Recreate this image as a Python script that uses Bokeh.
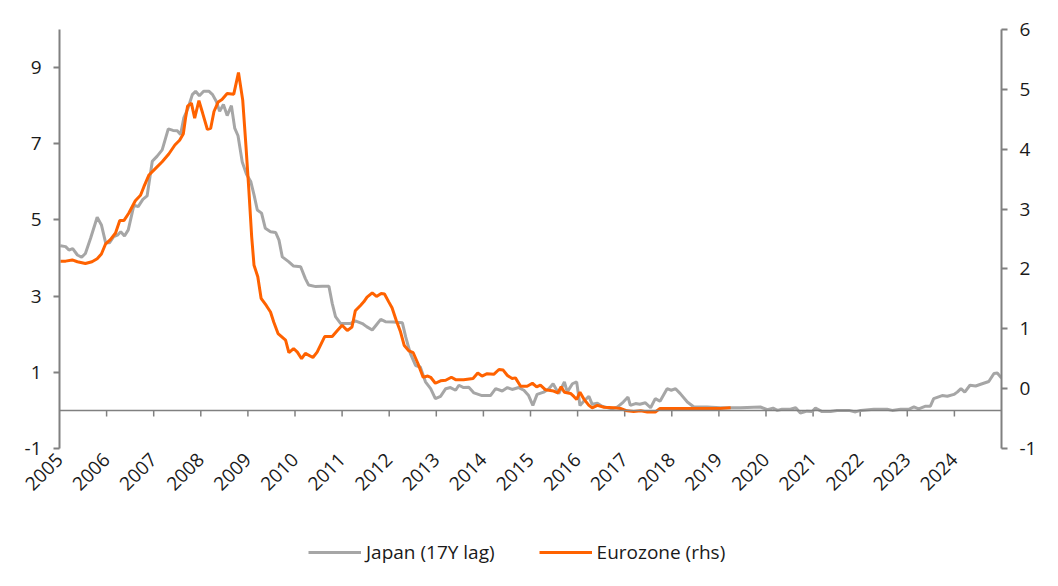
from bokeh.plotting import figure
from bokeh.layouts import column
from bokeh.models import (Range1d, LinearAxis, FixedTicker, Span, Legend, LegendItem)
from bokeh.embed import file_html
from bokeh.resources import INLINE
import math

# ---- data ----
japan_dates = [2005.02, 2005.13, 2005.20, 2005.28, 2005.38, 2005.47, 2005.55, 2005.66, 2005.80, 2005.89,
               2005.98, 2006.06, 2006.15, 2006.23, 2006.30, 2006.38, 2006.46, 2006.58, 2006.67, 2006.77,
               2006.86, 2006.97, 2007.07, 2007.18, 2007.31, 2007.41, 2007.50, 2007.57, 2007.64, 2007.73,
               2007.82, 2007.89, 2007.97, 2008.06, 2008.17, 2008.25, 2008.33, 2008.40, 2008.48, 2008.56,
               2008.65, 2008.72, 2008.79, 2008.88, 2008.97, 2009.06, 2009.13, 2009.20, 2009.29, 2009.37,
               2009.48, 2009.59, 2009.66, 2009.73, 2009.87, 2009.97, 2010.12, 2010.22, 2010.29, 2010.44,
               2010.58, 2010.72, 2010.79, 2010.86, 2010.97, 2011.18, 2011.28, 2011.43, 2011.52, 2011.64,
               2011.73, 2011.82, 2011.92, 2012.09, 2012.28, 2012.35, 2012.45, 2012.56, 2012.66, 2012.77,
               2012.88, 2012.98, 2013.09, 2013.20, 2013.30, 2013.41, 2013.48, 2013.58, 2013.69, 2013.80,
               2013.97, 2014.15, 2014.26, 2014.40, 2014.51, 2014.61, 2014.75, 2014.86, 2014.96, 2015.05,
               2015.14, 2015.28, 2015.39, 2015.48, 2015.60, 2015.72, 2015.78, 2015.89, 2015.98, 2016.05,
               2016.13, 2016.24, 2016.31, 2016.42, 2016.52, 2016.73, 2016.85, 2016.97, 2017.07, 2017.12,
               2017.23, 2017.32, 2017.44, 2017.55, 2017.65, 2017.75, 2017.90, 2017.99, 2018.08, 2018.18,
               2018.33, 2018.47, 2018.75, 2019.03, 2019.46, 2019.88, 2020.03, 2020.15, 2020.24, 2020.34,
               2020.52, 2020.63, 2020.73, 2020.87, 2020.98, 2021.05, 2021.19, 2021.37, 2021.51, 2021.76,
               2021.90, 2022.01, 2022.29, 2022.57, 2022.68, 2022.86, 2023.03, 2023.14, 2023.24, 2023.39,
               2023.49, 2023.56, 2023.74, 2023.85, 2023.99, 2024.06, 2024.14, 2024.22, 2024.33, 2024.45,
               2024.59, 2024.73, 2024.84, 2024.91, 2025.00]
japan_values = [4.32, 4.30, 4.21, 4.25, 4.08, 4.02, 4.12, 4.52, 5.07, 4.87,
                4.40, 4.40, 4.56, 4.60, 4.69, 4.58, 4.74, 5.39, 5.35, 5.54,
                5.63, 6.54, 6.67, 6.84, 7.39, 7.35, 7.34, 7.24, 7.68, 7.94,
                8.29, 8.38, 8.26, 8.38, 8.38, 8.29, 8.11, 7.85, 8.03, 7.74,
                8.00, 7.41, 7.21, 6.52, 6.20, 6.01, 5.66, 5.26, 5.18, 4.78,
                4.69, 4.67, 4.47, 4.03, 3.90, 3.79, 3.77, 3.46, 3.29, 3.25,
                3.26, 3.26, 2.81, 2.46, 2.28, 2.28, 2.35, 2.28, 2.20, 2.11,
                2.25, 2.39, 2.33, 2.32, 2.30, 1.93, 1.49, 1.18, 1.14, 0.75,
                0.57, 0.31, 0.37, 0.57, 0.60, 0.53, 0.66, 0.60, 0.61, 0.46,
                0.39, 0.39, 0.57, 0.51, 0.60, 0.55, 0.60, 0.53, 0.39, 0.13,
                0.42, 0.48, 0.57, 0.70, 0.44, 0.75, 0.48, 0.70, 0.75, 0.13,
                0.24, 0.37, 0.16, 0.19, 0.11, 0.04, 0.09, 0.22, 0.35, 0.13,
                0.18, 0.16, 0.20, 0.07, 0.31, 0.24, 0.57, 0.53, 0.57, 0.44,
                0.22, 0.09, 0.09, 0.07, 0.07, 0.09, 0.02, 0.06, 0.00, 0.03,
                0.03, 0.07, -0.07, -0.02, -0.03, 0.06, -0.03, -0.03, 0.00, 0.00,
                -0.04, 0.00, 0.03, 0.03, 0.00, 0.03, 0.03, 0.09, 0.04, 0.11,
                0.11, 0.31, 0.39, 0.37, 0.42, 0.48, 0.57, 0.48, 0.66, 0.64,
                0.70, 0.76, 0.97, 0.98, 0.85]

euro_dates = [2005.02, 2005.13, 2005.27, 2005.38, 2005.55, 2005.69, 2005.80, 2005.89, 2005.98, 2006.08,
              2006.19, 2006.28, 2006.37, 2006.47, 2006.61, 2006.72, 2006.79, 2006.90, 2007.04, 2007.18,
              2007.32, 2007.45, 2007.55, 2007.63, 2007.68, 2007.72, 2007.80, 2007.87, 2007.96, 2008.04,
              2008.14, 2008.21, 2008.28, 2008.37, 2008.45, 2008.56, 2008.70, 2008.80, 2008.89, 2008.96,
              2009.02, 2009.08, 2009.13, 2009.21, 2009.28, 2009.39, 2009.48, 2009.55, 2009.64, 2009.80,
              2009.87, 2009.97, 2010.05, 2010.14, 2010.22, 2010.38, 2010.47, 2010.63, 2010.79, 2010.90,
              2011.00, 2011.11, 2011.21, 2011.28, 2011.39, 2011.46, 2011.53, 2011.64, 2011.73, 2011.83,
              2011.90, 2011.99, 2012.06, 2012.15, 2012.24, 2012.32, 2012.42, 2012.51, 2012.61, 2012.72,
              2012.82, 2012.88, 2012.98, 2013.09, 2013.20, 2013.32, 2013.41, 2013.58, 2013.78, 2013.88,
              2013.97, 2014.08, 2014.22, 2014.33, 2014.42, 2014.51, 2014.61, 2014.68, 2014.79, 2014.93,
              2015.04, 2015.13, 2015.21, 2015.32, 2015.49, 2015.58, 2015.65, 2015.72, 2015.85, 2015.92,
              2015.98, 2016.05, 2016.13, 2016.24, 2016.31, 2016.42, 2016.56, 2016.77, 2016.91, 2017.05,
              2017.19, 2017.34, 2017.48, 2017.65, 2017.75, 2018.04, 2018.40, 2018.75, 2019.03, 2019.25]
euro_values = [2.13, 2.13, 2.15, 2.12, 2.09, 2.12, 2.17, 2.25, 2.42, 2.49,
               2.60, 2.81, 2.81, 2.93, 3.14, 3.23, 3.37, 3.57, 3.68, 3.79,
               3.92, 4.07, 4.15, 4.26, 4.54, 4.72, 4.77, 4.52, 4.81, 4.60,
               4.33, 4.35, 4.63, 4.79, 4.83, 4.93, 4.92, 5.28, 4.82, 4.04,
               3.32, 2.54, 2.06, 1.87, 1.51, 1.39, 1.28, 1.11, 0.92, 0.81,
               0.60, 0.67, 0.61, 0.50, 0.59, 0.52, 0.61, 0.87, 0.87, 0.97,
               1.06, 0.97, 1.03, 1.30, 1.39, 1.45, 1.53, 1.60, 1.54, 1.59,
               1.58, 1.45, 1.35, 1.14, 0.95, 0.72, 0.63, 0.60, 0.42, 0.19,
               0.21, 0.19, 0.09, 0.13, 0.14, 0.19, 0.15, 0.15, 0.17, 0.26,
               0.21, 0.25, 0.24, 0.32, 0.31, 0.22, 0.17, 0.18, 0.04, 0.04,
               0.09, 0.03, 0.06, -0.02, -0.04, -0.07, 0.03, -0.06, -0.08, -0.13,
               -0.18, -0.06, -0.17, -0.28, -0.32, -0.28, -0.31, -0.32, -0.33, -0.37,
               -0.38, -0.37, -0.39, -0.39, -0.33, -0.33, -0.33, -0.33, -0.33, -0.32]

years = list(range(2005, 2025))
left_ticks = [-1, 1, 3, 5, 7, 9]
right_ticks = [-1, 0, 1, 2, 3, 4, 5, 6]
series_names = ["Japan (17Y lag)", "Eurozone (rhs)"]

# ---- style ----
FONT = "Open Sans"
GRAY = "#A6A6A6"
ORANGE = "#FF6200"
AXIS = "#808080"
TEXT = "#1a1a1a"

p = figure(width=1042, height=515, output_backend="svg", toolbar_location=None,
           x_range=Range1d(2005, 2025), y_range=Range1d(-1, 10),
           min_border_left=59, min_border_right=41, min_border_top=29, min_border_bottom=67)
p.outline_line_color = None
p.grid.grid_line_color = None
p.background_fill_color = "white"
p.border_fill_color = "white"

p.extra_y_ranges = {"rhs": Range1d(-1, 6)}

# x axis: labels only at the bottom
xa = p.xaxis[0]
xa.ticker = FixedTicker(ticks=years)
xa.major_label_overrides = {y: str(y) for y in years}
xa.major_label_orientation = math.pi / 4
xa.axis_line_color = None
xa.major_tick_line_color = None
xa.minor_tick_line_color = None
xa.major_tick_out = 4
xa.major_label_standoff = 4
xa.major_label_text_font = FONT
xa.major_label_text_font_size = "19px"
xa.major_label_text_color = TEXT

# left axis
ya = p.yaxis[0]
ya.ticker = FixedTicker(ticks=left_ticks)
ya.major_label_overrides = {t: str(t) for t in left_ticks}
ya.axis_line_color = AXIS
ya.axis_line_width = 2
ya.major_tick_line_color = AXIS
ya.major_tick_line_width = 2
ya.major_tick_out = 6
ya.major_tick_in = 0
ya.minor_tick_line_color = None
ya.major_label_standoff = 12
ya.major_label_text_font = FONT
ya.major_label_text_font_size = "19px"
ya.major_label_text_color = TEXT

# right axis
ra = LinearAxis(y_range_name="rhs", ticker=FixedTicker(ticks=right_ticks))
ra.major_label_overrides = {t: str(t) for t in right_ticks}
ra.axis_line_color = AXIS
ra.axis_line_width = 2
ra.major_tick_line_color = AXIS
ra.major_tick_line_width = 2
ra.major_tick_out = 6
ra.major_tick_in = 0
ra.minor_tick_line_color = None
ra.major_label_standoff = 12
ra.major_label_text_font = FONT
ra.major_label_text_font_size = "19px"
ra.major_label_text_color = TEXT
p.add_layout(ra, "right")

# zero line with year ticks
p.add_layout(Span(location=0, dimension="width", line_color=AXIS, line_width=1.5))
p.segment(x0=years[1:], y0=[0] * (len(years) - 1), x1=years[1:], y1=[-0.16] * (len(years) - 1),
          line_color=AXIS, line_width=1.5)

p.line(japan_dates, japan_values, line_color=GRAY, line_width=3)
p.line(euro_dates, euro_values, line_color=ORANGE, line_width=3, y_range_name="rhs")

# ---- legend strip below the chart ----
lg = figure(width=1042, height=55, output_backend="svg", toolbar_location=None,
            x_axis_type=None, y_axis_type=None,
            x_range=Range1d(0, 1), y_range=Range1d(0, 1),
            min_border=0, min_border_left=0, min_border_right=0, min_border_top=0, min_border_bottom=0)
lg.grid.grid_line_color = None
lg.outline_line_color = None
lg.background_fill_color = "white"
lg.border_fill_color = "white"
nan = float("nan")
k1 = lg.line(x=[nan], y=[nan], line_color=GRAY, line_width=3)
k2 = lg.line(x=[nan], y=[nan], line_color=ORANGE, line_width=3)
legend = Legend(items=[LegendItem(label=series_names[0], renderers=[k1]),
                       LegendItem(label=series_names[1], renderers=[k2])],
                orientation="horizontal", location=(249, 5),
                glyph_width=53, glyph_height=20, label_standoff=5, spacing=44,
                padding=0, margin=0, border_line_color=None, background_fill_alpha=0,
                label_text_font=FONT, label_text_font_size="19px", label_text_color=TEXT)
lg.add_layout(legend, "center")

layout = column(p, lg, spacing=0)
open("out.html", "w").write(file_html(layout, INLINE))
